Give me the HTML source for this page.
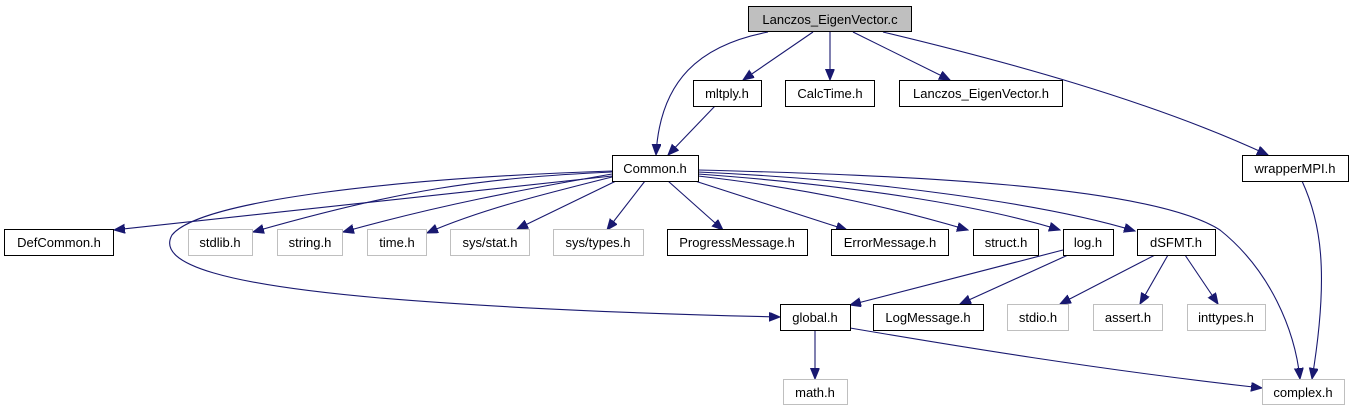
<!DOCTYPE html>
<html><head><meta charset="utf-8"><style>
html,body{margin:0;padding:0;background:#fff;}
svg{display:block;}
text{font-family:"Liberation Sans",sans-serif;font-size:13px;fill:#000;}
</style></head><body>
<svg width="1353" height="411" viewBox="0 0 1353 411" xmlns="http://www.w3.org/2000/svg">
<defs>
<marker id="a" markerUnits="userSpaceOnUse" markerWidth="12" markerHeight="10" refX="11" refY="4.5" orient="auto">
<polygon points="0,0 11,4.5 0,9" fill="#191970" stroke="#191970"/>
</marker>
</defs>
<g fill="none" stroke="#191970" stroke-width="1.1" marker-end="url(#a)">
<path d="M768,32 C700,45 660,80 656,155"/>
<path d="M813,32 L743,80"/>
<path d="M830,32 L830,80"/>
<path d="M853,32 L950,80"/>
<path d="M883,32 C1000,60 1150,100 1268,155"/>
<path d="M715,106 L668,155"/>
<path d="M612,176 L114,230"/>
<path d="M612,172 C480,178 400,190 253,232"/>
<path d="M612,174 C520,190 440,205 343,232"/>
<path d="M612,177 C540,195 480,210 427,233"/>
<path d="M616,181 L517,229"/>
<path d="M645,181 L607,230"/>
<path d="M668,181 L723,230"/>
<path d="M695,181 L847,230"/>
<path d="M698,176 C820,190 900,210 968,230"/>
<path d="M698,174 C850,185 980,205 1060,230"/>
<path d="M698,172 C880,180 1050,205 1135,231"/>
<path d="M698,170 C900,175 1150,185 1220,230 C1270,270 1295,330 1300,379"/>
<path d="M1302,181 C1320,220 1330,270 1312,379"/>
<path d="M612,171 C400,178 200,200 172,235 C155,265 230,285 380,298 C500,308 650,314 780,317"/>
<path d="M1063,250 L850,305"/>
<path d="M1068,255 L960,304"/>
<path d="M1155,255 L1060,304"/>
<path d="M1168,255 L1140,304"/>
<path d="M1185,255 L1218,304"/>
<path d="M850,328 C950,345 1100,370 1262,388"/>
<path d="M815,330 L815,379"/>
</g>
<g stroke-width="1" text-anchor="middle">
<rect x="748.5" y="6.5" width="163" height="25" fill="#bfbfbf" stroke="#000"/><text x="830" y="24">Lanczos_EigenVector.c</text>
<rect x="693.5" y="80.5" width="68" height="26" fill="#fff" stroke="#000"/><text x="727" y="98">mltply.h</text>
<rect x="785.5" y="80.5" width="89" height="26" fill="#fff" stroke="#000"/><text x="830" y="98">CalcTime.h</text>
<rect x="899.5" y="80.5" width="163" height="26" fill="#fff" stroke="#000"/><text x="981" y="98">Lanczos_EigenVector.h</text>
<rect x="612.5" y="155.5" width="86" height="26" fill="#fff" stroke="#000"/><text x="655" y="173">Common.h</text>
<rect x="1242.5" y="155.5" width="106" height="26" fill="#fff" stroke="#000"/><text x="1295" y="173">wrapperMPI.h</text>
<rect x="4.5" y="229.5" width="109" height="26" fill="#fff" stroke="#000"/><text x="59" y="247">DefCommon.h</text>
<rect x="188.5" y="229.5" width="64" height="26" fill="#fff" stroke="#bfbfbf"/><text x="220" y="247">stdlib.h</text>
<rect x="277.5" y="229.5" width="65" height="26" fill="#fff" stroke="#bfbfbf"/><text x="310" y="247">string.h</text>
<rect x="367.5" y="229.5" width="59" height="26" fill="#fff" stroke="#bfbfbf"/><text x="397" y="247">time.h</text>
<rect x="450.5" y="229.5" width="79" height="26" fill="#fff" stroke="#bfbfbf"/><text x="490" y="247">sys/stat.h</text>
<rect x="553.5" y="229.5" width="90" height="26" fill="#fff" stroke="#bfbfbf"/><text x="598" y="247">sys/types.h</text>
<rect x="667.5" y="229.5" width="140" height="26" fill="#fff" stroke="#000"/><text x="737" y="247">ProgressMessage.h</text>
<rect x="831.5" y="229.5" width="117" height="26" fill="#fff" stroke="#000"/><text x="890" y="247">ErrorMessage.h</text>
<rect x="973.5" y="229.5" width="65" height="26" fill="#fff" stroke="#000"/><text x="1006" y="247">struct.h</text>
<rect x="1063.5" y="229.5" width="50" height="26" fill="#fff" stroke="#000"/><text x="1088" y="247">log.h</text>
<rect x="1137.5" y="229.5" width="78" height="26" fill="#fff" stroke="#000"/><text x="1176" y="247">dSFMT.h</text>
<rect x="780.5" y="304.5" width="70" height="26" fill="#fff" stroke="#000"/><text x="815" y="322">global.h</text>
<rect x="873.5" y="304.5" width="110" height="26" fill="#fff" stroke="#000"/><text x="928" y="322">LogMessage.h</text>
<rect x="1007.5" y="304.5" width="61" height="26" fill="#fff" stroke="#bfbfbf"/><text x="1038" y="322">stdio.h</text>
<rect x="1093.5" y="304.5" width="69" height="26" fill="#fff" stroke="#bfbfbf"/><text x="1128" y="322">assert.h</text>
<rect x="1187.5" y="304.5" width="78" height="26" fill="#fff" stroke="#bfbfbf"/><text x="1226" y="322">inttypes.h</text>
<rect x="783.5" y="379.5" width="64" height="25" fill="#fff" stroke="#bfbfbf"/><text x="815" y="397">math.h</text>
<rect x="1262.5" y="379.5" width="82" height="25" fill="#fff" stroke="#bfbfbf"/><text x="1303" y="397">complex.h</text>
</g>
</svg>
</body></html>
